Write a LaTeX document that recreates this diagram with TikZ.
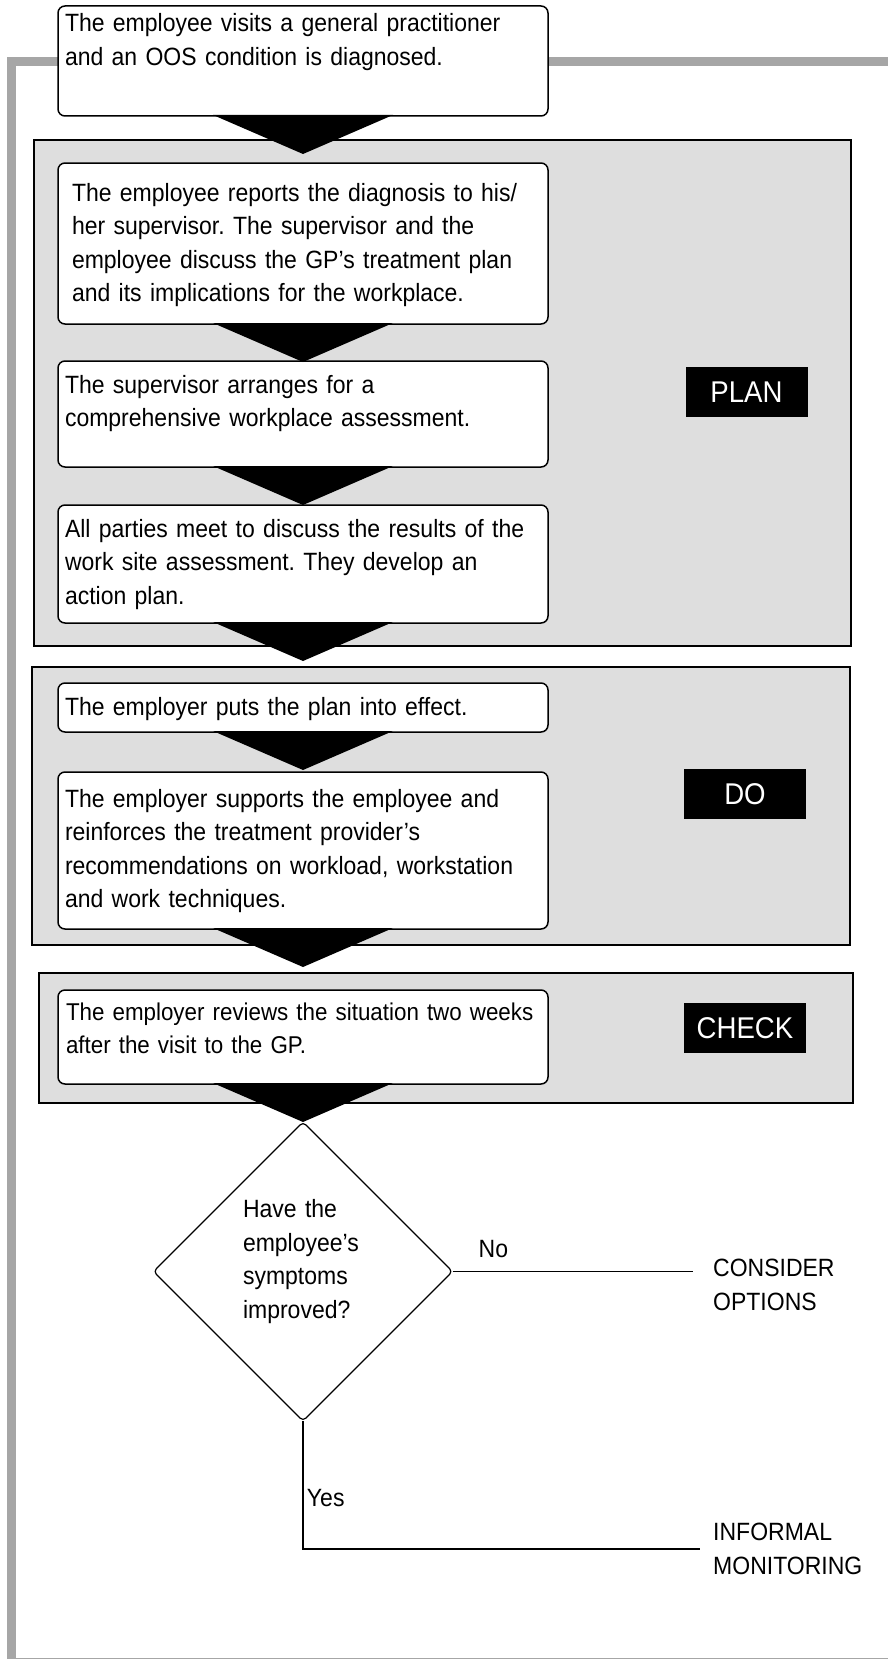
\documentclass[tikz,border=0pt]{standalone}
\usepackage{fontspec}
\setmainfont[FakeStretch=0.92]{Liberation Sans}
\usetikzlibrary{positioning,shapes.geometric,backgrounds}
\definecolor{panelgray}{HTML}{DEDEDE}
\definecolor{framegray}{HTML}{A6A6A6}

\begin{document}
\begin{tikzpicture}[x=1pt,y=-1pt,
    every node/.style={font=\fontsize{25}{33.5}\selectfont\frenchspacing},
    stepbox/.style={draw,line width=1.5pt,fill=white,rounded corners=7pt,align=left,
                    text width=476pt,inner xsep=7pt,inner ysep=0pt,outer sep=0pt,anchor=north},
    phase/.style={draw,line width=1.5pt,fill=panelgray},
    tag/.style={fill=black,text=white,minimum width=122pt,minimum height=50pt,inner sep=0pt,
                font=\fontsize{30}{32}\selectfont},
    decision/.style={diamond,aspect=1,draw,line width=1.2pt,rounded corners=4pt,fill=white,
                     minimum size=299pt,inner sep=0pt,outer sep=0pt,align=left,text width=120pt},
    outcome/.style={align=left,anchor=west,inner ysep=0pt}]

  \useasboundingbox (0,0) rectangle (888,1659);
  \clip (0,0) rectangle (888,1659);
  \draw[framegray,line width=9pt] (900,62) -- (11.5,62) -- (11.5,1662) -- (900,1662);

  \node[stepbox,text height=26pt,text depth=84pt] (s1) at (303,6)
    {The employee visits a general practitioner\\and an OOS condition is diagnosed.};
  \node[stepbox,text height=38pt,text depth=123pt,inner xsep=14pt,text width=462pt] (s2) [below=47pt of s1]
    {The employee reports the diagnosis to his/\\her supervisor. The supervisor and the\\employee discuss the GP’s treatment plan\\and its implications for the workplace.};
  \node[stepbox,text height=32pt,text depth=74pt] (s3) [below=37pt of s2]
    {The supervisor arranges for a\\comprehensive workplace assessment.};
  \node[stepbox,text height=32pt,text depth=86pt] (s4) [below=38pt of s3]
    {All parties meet to discuss the results of the\\work site assessment. They develop an\\action plan.};
  \node[stepbox,text height=32pt,text depth=17pt] (s5) [below=60pt of s4]
    {The employer puts the plan into effect.};
  \node[stepbox,text height=35pt,text depth=122pt] (s6) [below=40pt of s5]
    {The employer supports the employee and\\reinforces the treatment provider’s\\recommendations on workload, workstation\\and work techniques.};
  \node[stepbox,text height=30pt,text depth=64pt,inner xsep=8pt,text width=474pt,
        font=\fontsize{24.3}{33.5}\selectfont\frenchspacing] (s7) [below=61pt of s6]
    {\mbox{The employer reviews the situation two weeks}\\after the visit to the GP.};

  \node[decision,text height=17pt,text depth=125pt] (dec) [below=38pt of s7]
    {Have the\\employee’s\\symptoms\\improved?};

  \node[outcome,inner xsep=20pt] (consider) at (693,1285) {CONSIDER\\OPTIONS};
  \node[outcome,inner xsep=13pt] (monitor) at (700,1549) {INFORMAL\\MONITORING};

  \node[tag] (plantag) at (746.5,392) {PLAN};
  \node[tag] (dotag) at (745,794) {DO};
  \node[tag] (checktag) at (745,1028) {CHECK};

  \foreach \n in {s1,s2,s3,s4,s5,s6,s7}
    \fill (\n.south) ++(-90,-1) -- ++(180,0) -- ++(-90,39) -- cycle;

  \draw[line width=1.3pt] (dec.east) -- node[pos=0.17,above=10pt] {No} (dec.east -| consider.west);
  \draw[line width=1.3pt] (dec.south) |- node[pos=0.3,right] {Yes} (monitor.west);

  \begin{scope}[on background layer]
    \draw[phase] (34,140) rectangle (851,646);
    \draw[phase] (32,667) rectangle (850,945);
    \draw[phase] (39,973) rectangle (853,1103);
  \end{scope}
\end{tikzpicture}
\end{document}
